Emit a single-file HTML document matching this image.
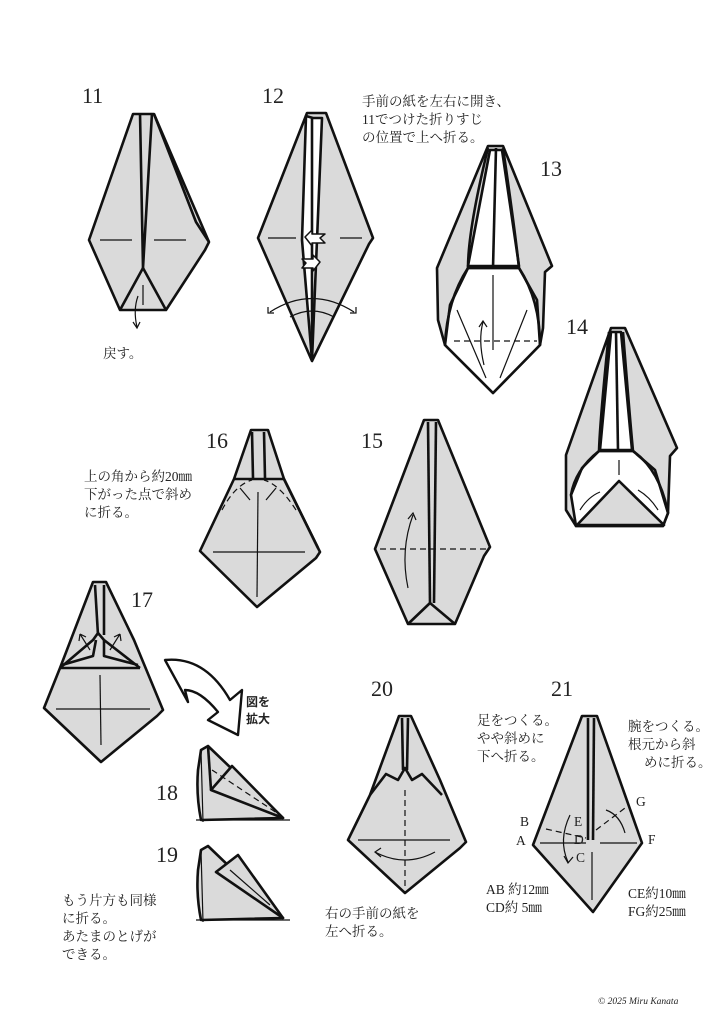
<!DOCTYPE html>
<html><head><meta charset="utf-8"><style>
html,body{margin:0;padding:0;background:#fff}
svg{display:block}
text{font-family:"Liberation Serif","Noto Serif CJK SC","Noto Sans CJK JP",serif;fill:#222}
.n{font-size:22px}
.t{font-size:13.5px}
.g{fill:#dadada;stroke:#111;stroke-width:2.6;stroke-linejoin:round}
.w{fill:#fff;stroke:#111;stroke-width:2.6;stroke-linejoin:round}
.l{fill:none;stroke:#111;stroke-width:1.2}
.b{fill:none;stroke:#111;stroke-width:2.6;stroke-linejoin:round}
.d{fill:none;stroke:#111;stroke-width:1.2;stroke-dasharray:6 4}
</style></head><body>
<svg width="724" height="1024" viewBox="0 0 724 1024" xmlns="http://www.w3.org/2000/svg">
<!-- 11 -->
<text class="n" x="82" y="103">11</text>
<polygon class="g" points="133,114 154,114 209,242 205,250 166,310 120,310 89,240"/>
<polyline class="b" points="154,114 196,222 209,242"/>
<polyline class="b" points="140,113 143,268 152,113"/>
<polyline class="b" points="120,310 143,268 166,310"/>
<line class="l" x1="100" y1="240" x2="132" y2="240"/><line class="l" x1="154" y1="240" x2="186" y2="240"/>
<line class="l" x1="143" y1="285" x2="143" y2="305"/>
<path class="l" d="M138 296 Q133 310 137 327"/><path class="l" d="M133 322 L137 328 L140 322"/>
<text class="t" x="103" y="358">戻す。</text>
<!-- 12 -->
<text class="n" x="262" y="103">12</text>
<polygon class="g" points="307,113 326,113 373,238 369,244 312,361 258,238"/>
<polygon class="w" points="306,116 313,118 318,118 322,118 317,240 312,360 302,240"/>
<line class="b" x1="312" y1="118" x2="312" y2="360"/>
<line class="l" x1="268" y1="238" x2="296" y2="238"/><line class="l" x1="340" y1="238" x2="362" y2="238"/>
<path class="w" style="stroke-width:1.5" d="M305 237 L312 230 L312 234 L325 234 L320 238 L325 243 L312 243 L312 246 Z"/>
<path class="w" style="stroke-width:1.5" d="M320 262 L313 255 L313 259 L302 259 L306 263 L302 268 L313 268 L313 271 Z"/>
<path class="l" d="M270 312 Q312 285 354 312"/><path class="l" d="M290 317 Q312 305 334 317"/>
<path class="l" d="M268 307 L268 313 L274 313"/><path class="l" d="M350 313 L356 313 L356 307"/>
<text class="t" x="362" y="106">手前の紙を左右に開き、</text>
<text class="t" x="362" y="124">11でつけた折りすじ</text>
<text class="t" x="362" y="142">の位置で上へ折る。</text>
<!-- 13 -->
<text class="n" x="540" y="176">13</text>
<path class="g" d="M488 146 L503 146 L552 266 L545 272 L543 328 L540 345 L493 393 L445 345 L438 320 L437 268 Z"/>
<path class="w" d="M468 268 L519 268 L537 300 L540 345 L493 393 L445 345 L450 305 Z"/>
<polygon class="w" points="490,150 496,150 502,150 519,266 468,266"/>
<line class="b" x1="496" y1="148" x2="493" y2="268"/>
<path class="b" d="M488 148 Q468 230 468 268 Q447 300 445 345"/>
<path class="b" d="M503 148 Q515 230 519 268 Q540 300 540 345"/>
<line class="b" x1="468" y1="268" x2="519" y2="268"/>
<line class="l" x1="493" y1="275" x2="493" y2="350"/>
<line class="d" x1="454" y1="341" x2="537" y2="341"/>
<line class="l" x1="457" y1="310" x2="486" y2="378"/><line class="l" x1="527" y1="310" x2="500" y2="378"/>
<path class="l" d="M484 365 Q478 340 483 322"/><path class="l" d="M479 327 L483 321 L487 327"/>
<!-- 14 -->
<text class="n" x="566" y="334">14</text>
<path class="g" d="M611 328 L625 328 L677 448 L670 456 L668 513 L663 526 L576 526 L566 510 L566 455 Z"/>
<path class="w" d="M599 451 L633 451 L655 470 L668 513 L663 526 L576 526 L571 495 L582 468 Z"/>
<polygon class="w" points="611,332 616,332 621,332 632,450 600,450"/>
<line class="b" x1="616" y1="332" x2="618" y2="450"/>
<line class="b" x1="599" y1="451" x2="633" y2="451"/>
<path class="b" d="M609 332 Q600 420 599 451 Q575 470 571 495"/>
<path class="b" d="M623 332 Q630 420 633 451 Q660 470 668 513"/>
<polygon class="g" points="577,525 619,481 664,525"/>
<line class="l" x1="619" y1="460" x2="619" y2="475"/>
<path class="l" d="M580 510 Q588 497 600 492"/><path class="l" d="M658 510 Q650 497 638 490"/>
<!-- 16 -->
<text class="n" x="206" y="448">16</text>
<polygon class="g" points="251,430 268,430 284,479 320,552 316,558 257,607 200,551 234,479"/>
<polyline class="b" points="284,479 318,548"/>
<line class="b" x1="252" y1="432" x2="253" y2="478"/><line class="b" x1="264" y1="432" x2="265" y2="478"/>
<line class="b" x1="234" y1="479" x2="284" y2="479"/>
<line class="l" x1="258" y1="492" x2="257" y2="597"/><line class="l" x1="213" y1="552" x2="305" y2="552"/>
<path class="d" d="M222 510 Q235 485 252 480"/><path class="d" d="M296 510 Q280 485 264 480"/>
<path class="l" d="M240 488 L250 500"/><path class="l" d="M276 488 L266 500"/>
<text class="t" x="84" y="481">上の角から約20㎜</text>
<text class="t" x="84" y="499">下がった点で斜め</text>
<text class="t" x="84" y="517">に折る。</text>
<!-- 15 -->
<text class="n" x="361" y="448">15</text>
<polygon class="g" points="424,420 438,420 490,547 484,556 455,624 408,624 375,549"/>
<line class="b" x1="428" y1="422" x2="430" y2="603"/><line class="b" x1="436" y1="422" x2="434" y2="603"/>
<polyline class="b" points="408,624 430,603 455,624"/>
<line class="d" x1="380" y1="549" x2="487" y2="549"/>
<path class="l" d="M408 588 Q400 550 413 515"/><path class="l" d="M408 519 L413 513 L416 520"/>
<!-- 17 -->
<text class="n" x="131" y="607">17</text>
<polygon class="g" points="93,582 106,582 134,640 163,710 157,716 101,762 44,708 60,668"/>
<line class="b" x1="95" y1="585" x2="98" y2="635"/><line class="b" x1="104" y1="585" x2="104" y2="635"/>
<polyline class="b" points="60,668 93,640 98,633 104,640 140,668"/>
<polyline class="b" points="62,665 93,656 96,640"/><polyline class="b" points="138,665 104,656 104,640"/>
<line class="b" x1="60" y1="668" x2="140" y2="668"/>
<line class="l" x1="100" y1="675" x2="101" y2="745"/><line class="l" x1="56" y1="709" x2="150" y2="709"/>
<path class="l" d="M90 650 L80 634 M80 634 L79 641 M80 634 L86 637"/><path class="l" d="M110 650 L120 634 M120 634 L121 641 M120 634 L114 637"/>
<!-- big arrow -->
<path class="w" style="stroke-width:2.4" d="M165 660 Q205 656 230 700 L242 690 L238 735 L208 720 L218 712 Q200 690 185 690 L188 702 Z"/>
<text x="246" y="706" style="font-family:'Liberation Sans','Noto Sans CJK JP',sans-serif;font-weight:bold;font-size:12px">図を</text>
<text x="246" y="723" style="font-family:'Liberation Sans','Noto Sans CJK JP',sans-serif;font-weight:bold;font-size:12px">拡大</text>
<!-- 18 -->
<text class="n" x="156" y="800">18</text>
<path class="g" d="M201 750 L208 746 L283 818 L201 820 Q196 795 198 770 Z"/>
<polygon class="g" points="211,790 232,766 283,818"/>
<line class="b" x1="208" y1="746" x2="211" y2="790"/>
<line class="l" x1="201" y1="750" x2="203" y2="822"/>
<line class="l" x1="196" y1="820" x2="290" y2="820"/>
<line class="d" x1="212" y1="770" x2="280" y2="815"/>
<!-- 19 -->
<text class="n" x="156" y="862">19</text>
<path class="g" d="M201 850 L208 846 L283 918 L201 920 Q196 895 198 870 Z"/>
<polygon class="g" points="216,872 238,855 283,918"/>
<line class="l" x1="201" y1="850" x2="203" y2="922"/>
<line class="l" x1="196" y1="920" x2="290" y2="920"/>
<line class="l" x1="230" y1="870" x2="270" y2="905"/>
<text class="t" x="62" y="905">もう片方も同様</text>
<text class="t" x="62" y="923">に折る。</text>
<text class="t" x="62" y="941">あたまのとげが</text>
<text class="t" x="62" y="959">できる。</text>
<!-- 20 -->
<text class="n" x="371" y="696">20</text>
<polygon class="g" points="399,716 411,716 440,780 466,842 460,848 405,893 348,840 370,795"/>
<line class="b" x1="402" y1="718" x2="403" y2="770"/><line class="b" x1="408" y1="718" x2="407" y2="770"/>
<polyline class="b" points="370,795 386,774 398,780 405,768 412,780 422,774 442,795"/>
<line class="d" x1="405" y1="790" x2="405" y2="890"/>
<line class="l" x1="358" y1="840" x2="450" y2="840"/>
<path class="l" d="M375 852 Q405 868 435 852"/><path class="l" d="M381 848 L375 852 L381 857"/>
<text class="t" x="325" y="918">右の手前の紙を</text>
<text class="t" x="325" y="936">左へ折る。</text>
<!-- 21 -->
<text class="n" x="551" y="696">21</text>
<polygon class="g" points="582,716 597,716 642,843 593,912 533,845"/>
<line class="b" x1="588" y1="718" x2="588" y2="840"/><line class="b" x1="594" y1="718" x2="593" y2="840"/>
<line class="l" x1="540" y1="843" x2="586" y2="843"/><line class="l" x1="600" y1="843" x2="637" y2="843"/>
<line class="d" x1="546" y1="829" x2="586" y2="838"/><line class="d" x1="596" y1="830" x2="625" y2="808"/>
<line class="l" x1="592" y1="852" x2="592" y2="900"/>
<path class="l" d="M570 815 Q558 840 568 862"/><path class="l" d="M564 856 L568 863 L573 857"/>
<path class="l" d="M606 810 Q620 815 625 833"/>
<text class="t" x="520" y="826">B</text><text class="t" x="516" y="845">A</text>
<text class="t" x="574" y="826">E</text><text class="t" x="574" y="844">D</text><text class="t" x="576" y="862">C</text>
<text class="t" x="636" y="806">G</text><text class="t" x="648" y="844">F</text>
<text class="t" x="477" y="725">足をつくる。</text>
<text class="t" x="477" y="743">やや斜めに</text>
<text class="t" x="477" y="761">下へ折る。</text>
<text class="t" x="628" y="731">腕をつくる。</text>
<text class="t" x="628" y="749">根元から斜</text>
<text class="t" x="644" y="767">めに折る。</text>
<text class="t" x="486" y="894">AB 約12㎜</text>
<text class="t" x="486" y="912">CD約 5㎜</text>
<text class="t" x="628" y="898">CE約10㎜</text>
<text class="t" x="628" y="916">FG約25㎜</text>
<text x="598" y="1004" style="font-size:9.5px;font-style:italic">© 2025 Miru Kanata</text>
</svg>
</body></html>
